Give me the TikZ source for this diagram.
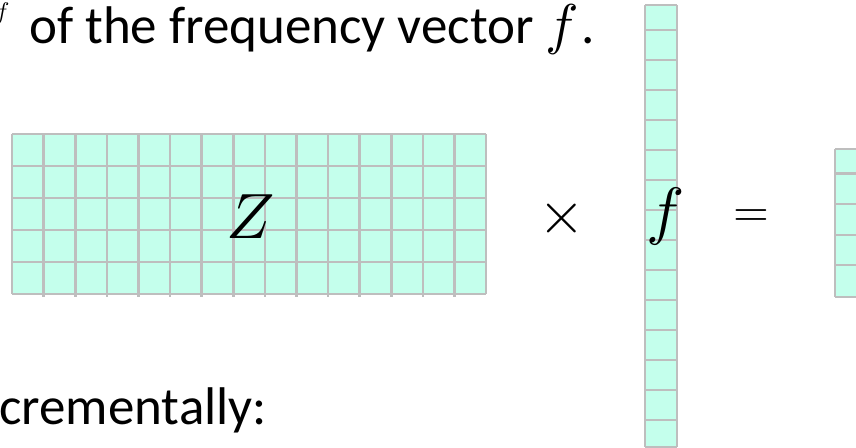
\documentclass[tikz,border=0pt]{standalone}
\usepackage{fontspec}
\setmainfont{Carlito}
\newfontfamily\lmm{Latin Modern Math}
\definecolor{cellfill}{RGB}{196,255,236}
\definecolor{cellline}{RGB}{190,190,190}
\tikzset{
  gridline/.style={draw=cellline, line width=2.6pt},
  txt/.style={inner sep=0pt, anchor=base west, font=\fontsize{53}{60}\selectfont},
  bigmath/.style={inner sep=0pt, font=\fontsize{64}{76}\selectfont\lmm},
}
\begin{document}
\begin{tikzpicture}[x=1pt,y=-1pt]
\useasboundingbox (0,0) rectangle (856,447);
\clip (0,0) rectangle (856,447);
% matrix Z
\fill[cellfill] (12,134) rectangle (486,294);
\foreach \i in {1,...,14} \draw[gridline] ({12+\i*474/15},134) -- ({12+\i*474/15},297);
\foreach \i in {0,15} \draw[gridline] ({12+\i*474/15},134) -- ({12+\i*474/15},294);
\foreach \j in {0,...,5} \draw[gridline] (12,{134+\j*32}) -- (486,{134+\j*32});
% vector f
\fill[cellfill] (645,5) rectangle (677,447);
\foreach \x in {645,677} \draw[gridline] (\x,5) -- (\x,447);
\foreach \y in {5,30,60,...,420,447} \draw[gridline] (645,\y) -- (677,\y);
% result vector
\fill[cellfill] (835,149) rectangle (870,297);
\draw[gridline] (835,149) -- (835,297);
\foreach \y in {149,173.5,204,235,265,297} \draw[gridline] (835,\y) -- (870,\y);
% texts
\node[txt] (toptext) at (29,43.3) {of the frequency vector {\fontsize{56}{60}\selectfont\lmm 𝑓}\,.};
\node[inner sep=0pt, font=\fontsize{24}{28}\selectfont\lmm] (fsup) at (1,13) {𝑓};
\node[txt] (bottext) at (-1,424.3) {crementally:};
\node[bigmath] (Z) at (248,216.7) {𝑍};
\node[bigmath] (f) at (662,216) {𝑓};
\node[inner sep=0pt, anchor=base, font=\fontsize{60}{64}\selectfont\lmm] (times) at (561.7,233.8) {×};
\node[inner sep=0pt, anchor=base, font=\fontsize{46}{50}\selectfont\lmm] (eq) at (751,226.8) {=};
\end{tikzpicture}
\end{document}
